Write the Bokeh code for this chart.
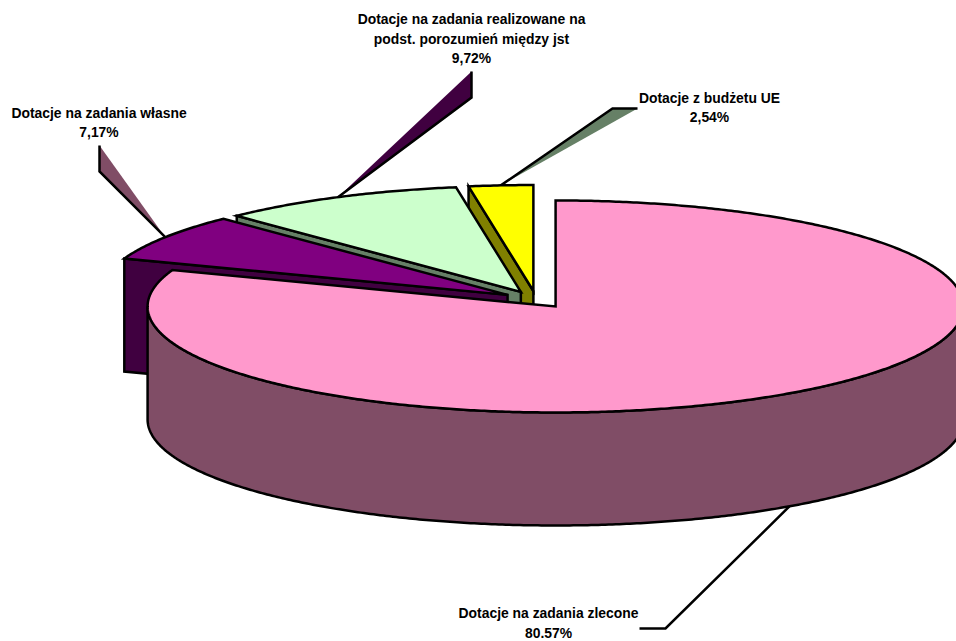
from math import sin, cos, radians
from bokeh.plotting import figure
from bokeh.embed import file_html
from bokeh.resources import INLINE
from bokeh.models import Range1d
from bokeh.core.properties import value

# Shares of the subsidy budget, in percent
slices = ["zlecone", "wlasne", "porozumienia", "ue"]
shares = [80.57, 7.17, 9.72, 2.54]
share_labels = ["80.57%", "7,17%", "9,72%", "2,54%"]
label_lines = [
    ["Dotacje na zadania zlecone"],
    ["Dotacje na zadania własne"],
    ["Dotacje na zadania realizowane na", "podst. porozumień między jst"],
    ["Dotacje z budżetu UE"],
]
top_colors = ["#FF99CC", "#800080", "#CCFFCC", "#FFFF00"]
wall_colors = ["#804D66", "#400040", "#668066", "#808000"]
leader_fills = [None, "#804D66", "#400040", "#668066"]

# Pie projection, in screen pixels
CX, CY = 535.6, 299.0
RX, RY = 408.0, 106.0
DEPTH = 113.0
EXPLODE_X, EXPLODE_Y = 34.0, 8.5

# Leader elbows and label anchors per slice
leader_elbows = [[(665, 628), (639, 628)], [(99, 171), (99, 145)],
                 [(471, 97), (471, 71)], [(612, 108), (637, 108)]]
label_centers = [548, 98.5, 471, 709]
label_tops = [612.5, 112, 18.5, 97]
LINE_STEP = 19.7

W, H = 956, 641
p = figure(width=W, height=H, output_backend="svg", toolbar_location=None,
           x_range=Range1d(0, W), y_range=Range1d(H, 0), min_border=0,
           outline_line_color=None)
p.axis.visible = False
p.grid.visible = False
p.background_fill_color = "white"


def unit(deg):
    return sin(radians(deg)), -cos(radians(deg))


def rim(ax, ay, a0, a1, drop=0.0):
    n = max(2, int(abs(a1 - a0) * 2))
    pts = []
    for i in range(n + 1):
        ux, uy = unit(a0 + (a1 - a0) * i / n)
        pts.append((ax + RX * ux, ay + RY * uy + drop))
    return pts


def draw_poly(pts, fill, line="black"):
    xs, ys = zip(*pts)
    p.patch(list(xs), list(ys), fill_color=fill, line_color=line, line_width=2.5,
            line_join="miter")


# Slice angles and exploded apexes
starts, ends, apexes, mids = [], [], [], []
running = 0.0
for s in shares:
    a0, a1 = running * 3.6, (running + s) * 3.6
    mid = (a0 + a1) / 2
    ux, uy = unit(mid)
    starts.append(a0)
    ends.append(a1)
    mids.append(mid)
    apexes.append((CX + EXPLODE_X * ux, CY + EXPLODE_Y * uy))
    running += s

# Leaders go underneath every slice
for i in range(len(shares)):
    ux, uy = unit(mids[i])
    drop = DEPTH if i == 0 else 0.0
    anchor = (apexes[i][0] + RX * ux, apexes[i][1] + RY * uy + drop)
    path = [anchor] + leader_elbows[i]
    xs, ys = zip(*path)
    if leader_fills[i]:
        p.patch(list(xs), list(ys), fill_color=leader_fills[i], line_color=None)
    p.line(list(xs), list(ys), line_color="black", line_width=2.5, line_join="miter")

# Back to front: the smallest slices first, the large slice last
for i in [3, 2, 1]:
    ax, ay = apexes[i]
    ux, uy = unit(starts[i])
    outer = (ax + RX * ux, ay + RY * uy)
    draw_poly([outer, (ax, ay), (ax, ay + DEPTH), (outer[0], outer[1] + DEPTH)],
              wall_colors[i])
    draw_poly([(ax, ay)] + rim(ax, ay, starts[i], ends[i]), top_colors[i])

ax, ay = apexes[0]
front = rim(ax, ay, 90, 270)
back = rim(ax, ay, 270, 90, DEPTH)
draw_poly(front + back, wall_colors[0])
draw_poly([(ax, ay)] + rim(ax, ay, starts[0], ends[0]), top_colors[0])

# Slice captions, bold and centred over their percentages
for i in range(len(shares)):
    rows = label_lines[i] + [share_labels[i]]
    ys = [label_tops[i] + LINE_STEP * k for k in range(len(rows))]
    p.text([label_centers[i]] * len(rows), ys, text=rows,
           text_font=value("Liberation Sans"), text_font_style="bold",
           text_font_size="13.9px", text_color="black",
           text_align="center", text_baseline="middle")

open("out.html", "w").write(file_html(p, INLINE))
